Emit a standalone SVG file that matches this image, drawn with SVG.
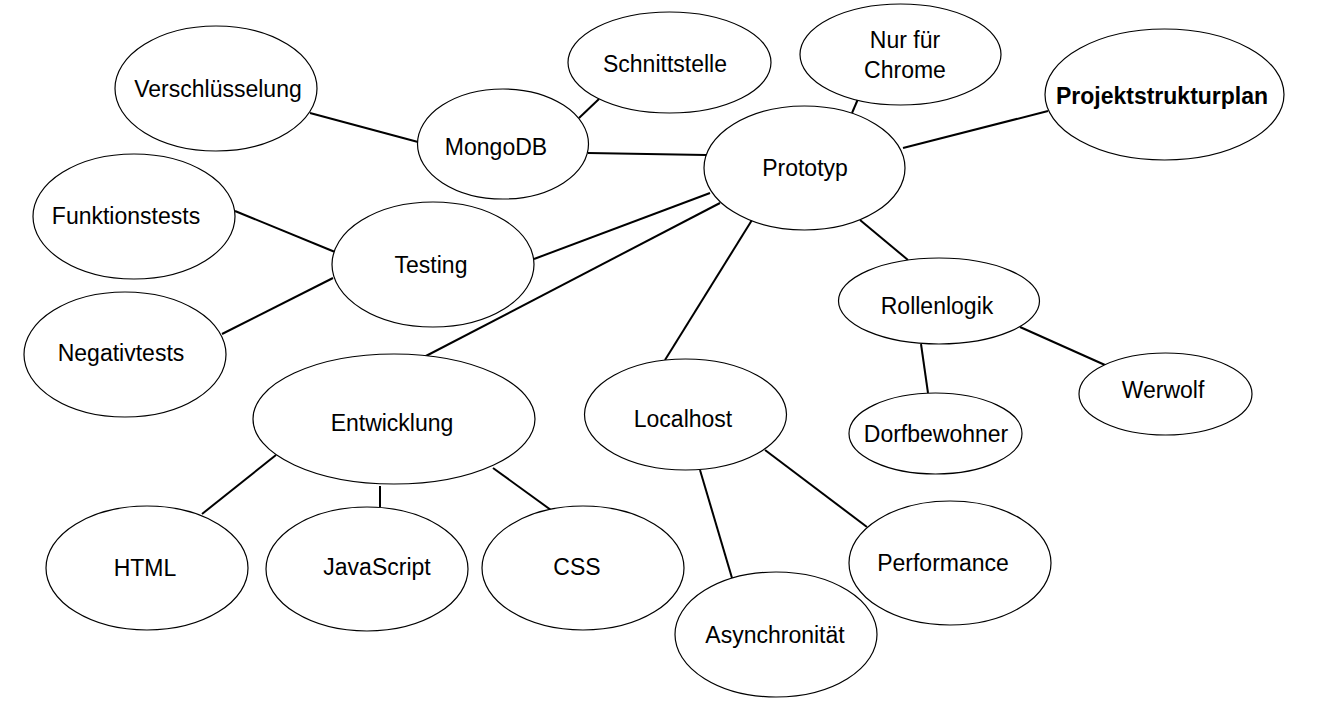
<svg xmlns="http://www.w3.org/2000/svg" width="1322" height="701" viewBox="0 0 1322 701">
<style>
.n ellipse{fill:#fff;stroke:#000;stroke-width:1.2}
.n text{font-family:"Liberation Sans",Arial,sans-serif;font-size:23px;fill:#000;text-anchor:middle}
.b{font-weight:bold}
#connectors line{stroke:#000;stroke-width:2;stroke-linecap:butt}
</style>
<rect width="1322" height="701" fill="#fff"/>
<g id="connectors">
<line x1="310" y1="113" x2="418" y2="142"/>
<line x1="579" y1="118" x2="599" y2="99"/>
<line x1="588" y1="153" x2="706" y2="155"/>
<line x1="858" y1="99" x2="852" y2="113"/>
<line x1="903" y1="148" x2="1048" y2="111"/>
<line x1="235" y1="211" x2="335" y2="252"/>
<line x1="222" y1="334" x2="333" y2="278"/>
<line x1="534" y1="259" x2="710" y2="193"/>
<line x1="424" y1="357" x2="720" y2="203"/>
<line x1="665" y1="360" x2="752" y2="220"/>
<line x1="860" y1="220" x2="908" y2="260"/>
<line x1="1020" y1="327" x2="1105" y2="365"/>
<line x1="921" y1="344" x2="928" y2="393"/>
<line x1="276" y1="455" x2="202" y2="514"/>
<line x1="380" y1="486" x2="380" y2="507"/>
<line x1="493" y1="468" x2="551" y2="510"/>
<line x1="700" y1="470" x2="732" y2="578"/>
<line x1="765" y1="450" x2="867" y2="527"/>
</g>
<g id="n-verschluesselung" class="n"><ellipse cx="216" cy="88.5" rx="101" ry="62.5"/><text x="218" y="97">Verschlüsselung</text></g>
<g id="n-schnittstelle" class="n"><ellipse cx="669.5" cy="62.5" rx="101.5" ry="50.5"/><text x="665" y="72">Schnittstelle</text></g>
<g id="n-chrome" class="n"><ellipse cx="900.5" cy="54.5" rx="100.5" ry="50.5"/><text x="905" y="48">Nur für</text><text x="905" y="78">Chrome</text></g>
<g id="n-psp" class="n"><ellipse cx="1164.5" cy="94.5" rx="119.5" ry="65.5"/><text class="b" x="1162" y="104">Projektstrukturplan</text></g>
<g id="n-mongodb" class="n"><ellipse cx="503" cy="144" rx="85.5" ry="55"/><text x="496" y="155">MongoDB</text></g>
<g id="n-prototyp" class="n"><ellipse cx="804.5" cy="168" rx="100.5" ry="62"/><text x="805" y="176">Prototyp</text></g>
<g id="n-funktionstests" class="n"><ellipse cx="134" cy="216.5" rx="101" ry="62.5"/><text x="126" y="224">Funktionstests</text></g>
<g id="n-testing" class="n"><ellipse cx="433" cy="264.5" rx="101" ry="62.5"/><text x="431" y="273">Testing</text></g>
<g id="n-negativtests" class="n"><ellipse cx="125" cy="354.5" rx="101" ry="62.5"/><text x="121" y="361">Negativtests</text></g>
<g id="n-rollenlogik" class="n"><ellipse cx="939" cy="301" rx="100.5" ry="43"/><text x="937" y="314">Rollenlogik</text></g>
<g id="n-entwicklung" class="n"><ellipse cx="394" cy="419" rx="141" ry="65"/><text x="392" y="431">Entwicklung</text></g>
<g id="n-localhost" class="n"><ellipse cx="685.5" cy="414.5" rx="101" ry="55.5"/><text x="683" y="427">Localhost</text></g>
<g id="n-werwolf" class="n"><ellipse cx="1165.5" cy="394" rx="86.5" ry="41"/><text x="1163" y="398">Werwolf</text></g>
<g id="n-dorfbewohner" class="n"><ellipse cx="935.5" cy="433.5" rx="86.5" ry="40.5"/><text x="936" y="442">Dorfbewohner</text></g>
<g id="n-html" class="n"><ellipse cx="147" cy="568" rx="101" ry="62"/><text x="145" y="576">HTML</text></g>
<g id="n-javascript" class="n"><ellipse cx="367" cy="569" rx="101" ry="62"/><text x="377" y="575">JavaScript</text></g>
<g id="n-css" class="n"><ellipse cx="583" cy="568" rx="101" ry="62"/><text x="577" y="575">CSS</text></g>
<g id="n-performance" class="n"><ellipse cx="950" cy="563" rx="101" ry="62"/><text x="943" y="571">Performance</text></g>
<g id="n-asynchronitaet" class="n"><ellipse cx="776" cy="634.5" rx="101" ry="62.5"/><text x="775" y="643">Asynchronität</text></g>
</svg>
